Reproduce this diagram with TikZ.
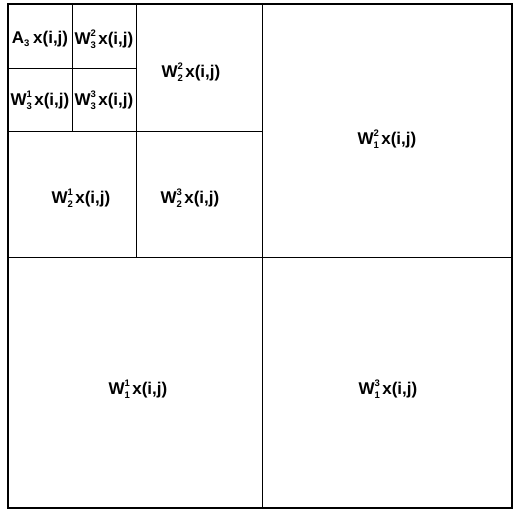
\documentclass[tikz,border=0pt]{standalone}
\usepackage{fontspec}
\setmainfont{Liberation Sans}
\newcommand{\wlab}[3]{#1\rlap{\raisebox{0.5em}{\fontsize{9.5}{10}\selectfont #3}}\raisebox{-0.22em}{\fontsize{9.5}{10}\selectfont #2}\hspace{0.14em}x(i,j)}
\newcommand{\alab}{A\raisebox{-0.22em}{\fontsize{9.5}{10}\selectfont 3}\hspace{0.22em}x(i,j)}
\begin{document}
\begin{tikzpicture}[x=1pt,y=-1pt,
  cellline/.style={line width=0.9pt,black},
  outerline/.style={line width=1.2pt,black},
  lab/.style={inner sep=0pt,font=\bfseries\fontsize{17}{18}\selectfont}]
\useasboundingbox (0,0) rectangle (514,509);
% coordinates of the grid
\coordinate (TL) at (8,4);
\coordinate (BR) at (512,508);
\draw[outerline] (TL) rectangle (BR);
\draw[cellline] (262,4) -- (262,508);
\draw[cellline] (8,257) -- (512,257);
\draw[cellline] (136,4) -- (136,257);
\draw[cellline] (8,131) -- (262,131);
\draw[cellline] (72,4) -- (72,131);
\draw[cellline] (8,68) -- (136,68);
% labels
\node[lab] (a3)  at (40,39)   {\alab};
\node[lab] (w32) at (104,39)  {\wlab{W}{3}{2}};
\node[lab] (w31) at (40,100)  {\wlab{W}{3}{1}};
\node[lab] (w33) at (104,100) {\wlab{W}{3}{3}};
\node[lab] (w22) at (191,72)  {\wlab{W}{2}{2}};
\node[lab] (w21) at (81,198)  {\wlab{W}{2}{1}};
\node[lab] (w23) at (190,198) {\wlab{W}{2}{3}};
\node[lab] (w12) at (387,139) {\wlab{W}{1}{2}};
\node[lab] (w11) at (138,389) {\wlab{W}{1}{1}};
\node[lab] (w13) at (388,389) {\wlab{W}{1}{3}};
\end{tikzpicture}
\end{document}
